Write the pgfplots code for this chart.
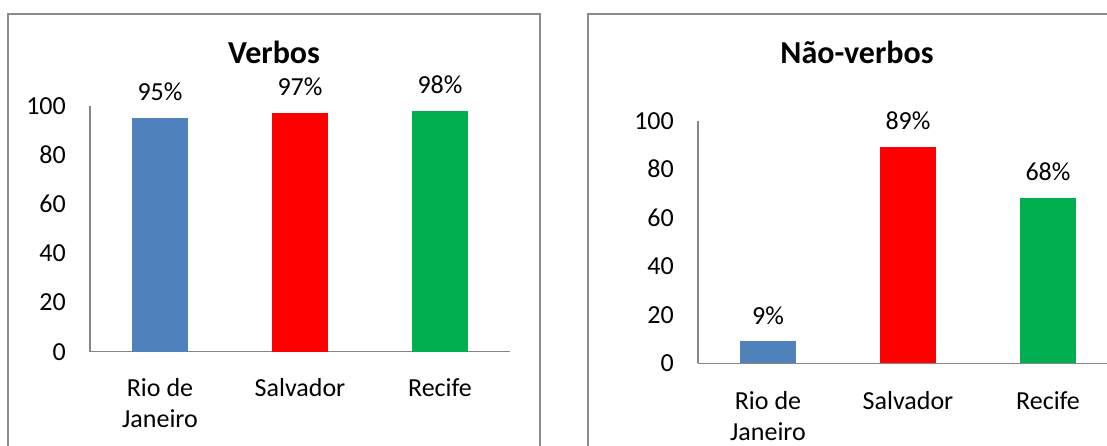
\documentclass[border=0pt]{standalone}
\usepackage{fontspec}
\setmainfont{Carlito}
\usepackage{pgfplots}
\pgfplotsset{compat=1.18}
\definecolor{cblue}{HTML}{4F81BD}
\definecolor{cred}{HTML}{FF0000}
\definecolor{cgreen}{HTML}{00B050}
\definecolor{axgray}{HTML}{868686}
\definecolor{bordergray}{HTML}{8C8C8C}

\pgfplotsset{
 panel/.style={
  scale only axis, width=420bp, height=245.7bp,
  xmin=-0.5, xmax=2.5, ymin=0, ymax=100,
  axis x line*=bottom, axis y line*=left,
  axis line style={axgray, line width=1.5bp},
  major tick length=0pt,
  xtick={0,1,2}, xticklabels={{Rio de\\Janeiro},Salvador,Recife},
  ytick={0,20,...,100},
  /pgf/number format/assume math mode=true,
  tick label style={font=\fontsize{26bp}{31bp}\selectfont, inner sep=0pt},
  yticklabel style={anchor=east, xshift=-24bp},
  xticklabel style={anchor=north, align=center},
  ybar, bar width=56bp, bar shift=0pt,
  nodes near coords, point meta=explicit symbolic,
  every node near coord/.style={anchor=south, inner sep=0pt, yshift=17bp, font=\fontsize{26bp}{31bp}\selectfont, black},
  clip=false,
 }
}

\begin{document}
\begin{tikzpicture}[x=1bp,y=1bp]
\useasboundingbox (0,0) rectangle (1107,446);
\clip (0,0) rectangle (1107,446);
\draw[bordergray, line width=1.3bp] (8,432) rectangle (540,-20);
\draw[bordergray, line width=1.3bp] (588,432) rectangle (1130,-20);
\node[anchor=base, inner sep=0pt, font=\fontsize{32bp}{38bp}\selectfont\bfseries] at (274,382) {Verbos};
\node[anchor=base, inner sep=0pt, font=\fontsize{32bp}{38bp}\selectfont\bfseries] at (857,382) {Não-verbos};

\begin{axis}[panel, at={(90bp,94.3bp)}, anchor=south west, xticklabel style={yshift=-27bp}]
\addplot[fill=cblue, draw=none] coordinates {(0,95) [95\%]};
\addplot[fill=cred, draw=none] coordinates {(1,97) [97\%]};
\addplot[fill=cgreen, draw=none] coordinates {(2,98) [98\%]};
\end{axis}

\begin{axis}[panel, height=242.6bp, at={(698bp,82.7bp)}, anchor=south west, xticklabel style={yshift=-28bp}]
\addplot[fill=cblue, draw=none] coordinates {(0,9) [9\%]};
\addplot[fill=cred, draw=none] coordinates {(1,89) [89\%]};
\addplot[fill=cgreen, draw=none] coordinates {(2,68) [68\%]};
\end{axis}
\end{tikzpicture}
\end{document}
